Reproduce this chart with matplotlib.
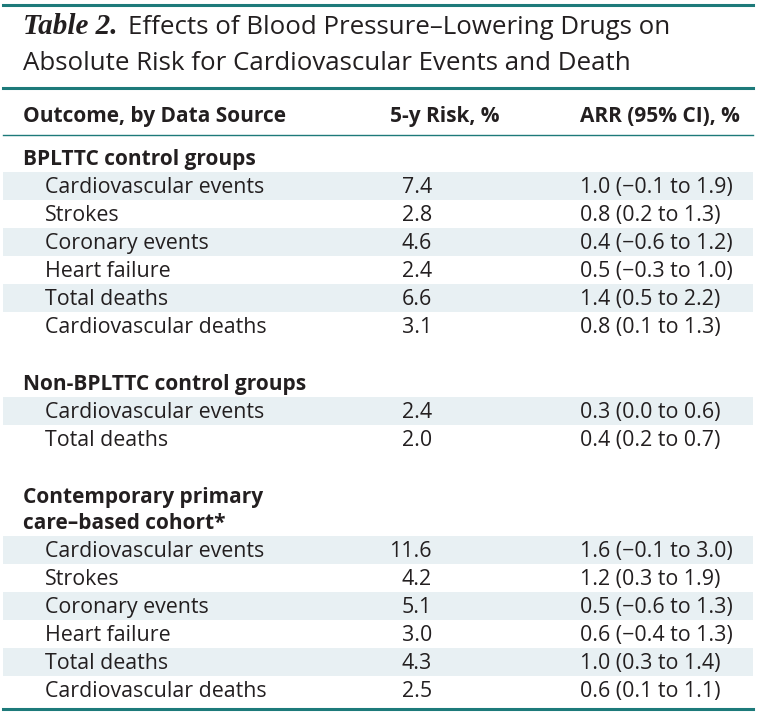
import matplotlib.pyplot as plt
from matplotlib.patches import Rectangle

plt.rcParams['font.family'] = ['Open Sans', 'DejaVu Sans']

title_italic = "Table 2."
title_lines = ["Effects of Blood Pressure\u2013Lowering Drugs on",
               "Absolute Risk for Cardiovascular Events and Death"]
col_heads = ["Outcome, by Data Source", "5-y Risk, %", "ARR (95% CI), %"]

groups = [["BPLTTC control groups"],
          ["Non-BPLTTC control groups"],
          ["Contemporary primary", "care\u2013based cohort*"]]

outcomes = [
    ["Cardiovascular events", "Strokes", "Coronary events", "Heart failure",
     "Total deaths", "Cardiovascular deaths"],
    ["Cardiovascular events", "Total deaths"],
    ["Cardiovascular events", "Strokes", "Coronary events", "Heart failure",
     "Total deaths", "Cardiovascular deaths"],
]
risk = [
    ["7.4", "2.8", "4.6", "2.4", "6.6", "3.1"],
    ["2.4", "2.0"],
    ["11.6", "4.2", "5.1", "3.0", "4.3", "2.5"],
]
arr = [
    ["1.0 (\u22120.1 to 1.9)", "0.8 (0.2 to 1.3)", "0.4 (\u22120.6 to 1.2)",
     "0.5 (\u22120.3 to 1.0)", "1.4 (0.5 to 2.2)", "0.8 (0.1 to 1.3)"],
    ["0.3 (0.0 to 0.6)", "0.4 (0.2 to 0.7)"],
    ["1.6 (\u22120.1 to 3.0)", "1.2 (0.3 to 1.9)", "0.5 (\u22120.6 to 1.3)",
     "0.6 (\u22120.4 to 1.3)", "1.0 (0.3 to 1.4)", "0.6 (0.1 to 1.1)"],
]

teal = "#1d7a7a"
ink = "#231f20"
shade = "#e8f0f3"
body_fs = 15.4
head_fs = 15

fig = plt.figure(figsize=(7.57, 7.15), dpi=100)
ax = fig.add_axes([0, 0, 1, 1])
ax.set_xlim(0, 757)
ax.set_ylim(715, 0)
ax.axis("off")

# rules
ax.plot([3, 753], [5, 5], color=teal, lw=2.2)
ax.plot([3, 753], [88, 88], color=teal, lw=2.2)
ax.plot([3, 753], [135, 135], color=teal, lw=1.0)
ax.plot([3, 753], [709, 709], color=teal, lw=2.2)

# title
t = ax.text(23, 34, title_italic, fontsize=21, family="Liberation Serif",
            style="italic", weight="bold", color=ink, va="baseline")
fig.canvas.draw()
x_after = ax.transData.inverted().transform(t.get_window_extent().get_points())[1, 0]
ax.text(x_after + 11, 34, title_lines[0], fontsize=18.6, color=ink, va="baseline")
ax.text(23, 70, title_lines[1], fontsize=18.6, color=ink, va="baseline")

# column heads
ax.text(23, 122, col_heads[0], fontsize=head_fs, weight="bold", color=ink, va="baseline")
ax.text(390, 122, col_heads[1], fontsize=head_fs, weight="bold", color=ink, va="baseline")
ax.text(580, 122, col_heads[2], fontsize=head_fs, weight="bold", color=ink, va="baseline")

row_h = 28
y = 158
for g, lines in enumerate(groups):
    for k, line in enumerate(lines):
        ax.text(23, y + 7 + k * 26, line, fontsize=head_fs, weight="bold",
                color=ink, va="baseline")
    y += (len(lines) - 1) * 26 + 28
    for i in range(len(outcomes[g])):
        if i % 2 == 0:
            ax.add_patch(Rectangle((3, y - 14), 750, row_h, color=shade, lw=0))
        ax.text(45, y + 7, outcomes[g][i], fontsize=body_fs, color=ink, va="baseline")
        ax.text(432, y + 7, risk[g][i], fontsize=body_fs, color=ink, va="baseline", ha="right")
        ax.text(580, y + 7, arr[g][i], fontsize=body_fs, color=ink, va="baseline")
        y += row_h
    y += 29

fig.savefig("out.png", dpi=100, facecolor="white")
